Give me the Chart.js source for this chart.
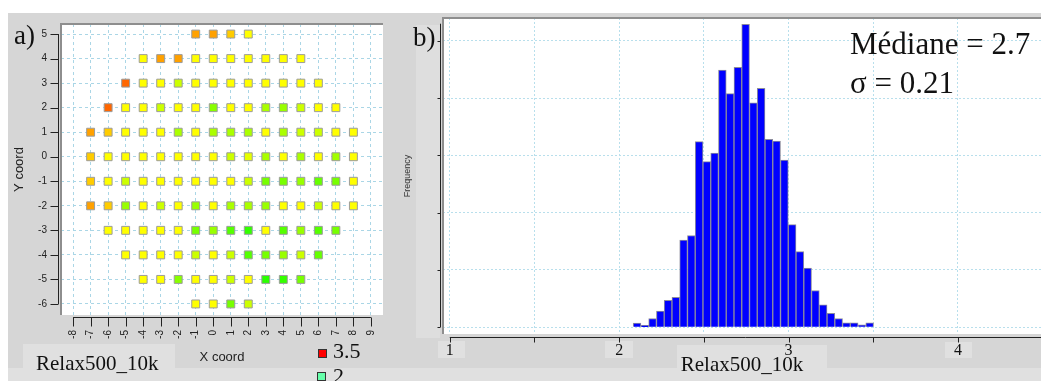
<!DOCTYPE html>
<html>
<head>
<meta charset="utf-8">
<script src="https://cdn.jsdelivr.net/npm/chart.js@4.4.1/dist/chart.umd.min.js"></script>
<style>
  body { margin: 0; width: 1041px; height: 381px; overflow: hidden; position: relative; background: #fff; }
  .abs { position: absolute; }
  .serif { font-family: "Liberation Serif", "Times New Roman", serif; color: #111; line-height: 1; white-space: nowrap; }
  canvas { position: absolute; top: 0; }
</style>
</head>
<body>
<div class="abs" style="left:8px;top:13px;width:1033px;height:368px;background:#d6d6d6"></div>
<div class="abs" style="left:8px;top:368px;width:1033px;height:13px;background:#e0e0e0"></div>
<div class="abs" style="left:23px;top:344px;width:152px;height:37px;background:#e0e0e0"></div>
<div class="abs" style="left:416px;top:25px;width:24px;height:313px;background:#dedede"></div>
<div class="abs" style="left:438px;top:341px;width:27px;height:17px;background:#e0e0e0"></div>
<div class="abs" style="left:605px;top:341px;width:28px;height:17px;background:#e0e0e0"></div>
<div class="abs" style="left:677px;top:345px;width:150px;height:23px;background:#e0e0e0"></div>
<div class="abs" style="left:945px;top:342px;width:27px;height:16px;background:#e0e0e0"></div>

<canvas id="wafer" width="400" height="381" style="left:0"></canvas>
<canvas id="hist" width="646" height="381" style="left:395px"></canvas>

<div class="abs serif" style="left:14px;top:22px;font-size:27px">a)</div>
<div class="abs serif" style="left:413px;top:24px;font-size:27px">b)</div>
<div class="abs serif" style="left:850px;top:28px;font-size:31px">Médiane = 2.7</div>
<div class="abs serif" style="left:850px;top:67px;font-size:31px">σ = 0.21</div>
<div class="abs serif" style="left:36px;top:353px;font-size:21px">Relax500_10k</div>
<div class="abs" style="left:318px;top:349px;width:7px;height:7px;background:#ff0000;border:1px solid #333"></div>
<div class="abs serif" style="left:333px;top:340px;font-size:22px">3.5</div>
<div class="abs" style="left:317px;top:372px;width:7px;height:7px;background:#66ffaa;border:1px solid #333"></div>
<div class="abs serif" style="left:333px;top:365px;font-size:22px">2</div>

<script>
// wafer map: one array per row (Y coord), values start at rowFirstX
var rowY = [5, 4, 3, 2, 1, 0, -1, -2, -3, -4, -5, -6];
var rowFirstX = [-1, -4, -5, -6, -7, -7, -7, -7, -6, -5, -4, -1];
var rowP5 = [3.12, 3.12, 3.02, 2.90];
var rowP4 = [2.90, 3.12, 3.12, 2.90, 2.90, 2.90, 2.90, 2.90, 2.90, 2.90];
var rowP3 = [3.26, 2.90, 2.90, 2.78, 2.90, 2.90, 2.90, 2.90, 2.90, 2.90, 2.90, 2.90];
var rowP2 = [3.26, 2.90, 2.90, 2.78, 2.90, 2.90, 2.62, 2.90, 2.90, 2.70, 2.66, 2.78, 2.90, 2.90];
var rowP1 = [3.12, 3.02, 2.90, 2.90, 2.90, 2.70, 2.90, 2.70, 2.70, 2.70, 2.90, 2.70, 2.78, 2.78, 2.90, 2.90];
var row0 = [3.02, 2.90, 2.90, 2.90, 2.90, 2.90, 2.90, 2.90, 2.78, 2.84, 2.70, 2.90, 2.70, 2.90, 2.68, 2.90];
var rowM1 = [3.02, 2.90, 2.78, 2.90, 2.90, 2.90, 2.90, 2.90, 2.90, 2.78, 2.58, 2.58, 2.66, 2.54, 2.58, 2.90];
var rowM2 = [3.12, 3.02, 2.66, 2.90, 2.78, 2.90, 2.66, 2.90, 2.70, 2.70, 2.66, 2.90, 2.90, 2.78, 2.90, 2.90];
var rowM3 = [2.90, 2.90, 2.90, 2.90, 2.90, 2.58, 2.66, 2.50, 2.42, 2.90, 2.50, 2.66, 2.50, 2.58];
var rowM4 = [2.90, 2.90, 2.90, 2.90, 2.78, 2.90, 2.78, 2.50, 2.58, 2.66, 2.78, 2.54];
var rowM5 = [2.90, 2.90, 2.62, 2.90, 2.90, 2.78, 2.90, 2.40, 2.42, 2.58];
var rowM6 = [2.90, 2.90, 2.58, 2.78];
var dieRows = [rowP5, rowP4, rowP3, rowP2, rowP1, row0, rowM1, rowM2, rowM3, rowM4, rowM5, rowM6];

// histogram of Relax500_10k
var binCenters = [2.1055, 2.1513, 2.1970, 2.2428, 2.2886, 2.3344, 2.3801, 2.4259, 2.4717, 2.5175,
                  2.5632, 2.6090, 2.6548, 2.7006, 2.7463, 2.7921, 2.8379, 2.8837, 2.9294, 2.9752,
                  3.0210, 3.0668, 3.1125, 3.1583, 3.2041, 3.2499, 3.2956, 3.3414, 3.3872, 3.4330, 3.4787];
var binCounts = [0.7, 0.3, 1.5, 2.8, 4.7, 5.2, 15.2, 16.0, 32.4, 28.9,
                 30.4, 44.9, 40.8, 45.4, 52.9, 39.2, 41.7, 32.8, 32.5, 29.2,
                 17.9, 13.2, 10.3, 6.4, 3.9, 2.4, 1.5, 0.75, 0.75, 0.4, 0.75];

function dieColor(v) {
  var h = Math.max(0, Math.min(150, (3.5 - v) * 100));
  return 'hsl(' + h + ',100%,50%)';
}

var points = [];
var colors = [];
dieRows.forEach(function(vals, r) {
  vals.forEach(function(v, i) {
    points.push({x: rowFirstX[r] + i, y: rowY[r]});
    colors.push(dieColor(v));
  });
});

// white plot box, sunken edge, and axes drawn slightly off the plot box
var frame = {
  id: 'frame',
  beforeDraw: function(chart) {
    var a = chart.chartArea, ctx = chart.ctx;
    ctx.save();
    ctx.fillStyle = '#fff';
    ctx.fillRect(a.left, a.top, a.right - a.left, a.bottom - a.top);
    ctx.restore();
  },
  afterDraw: function(chart, args, o) {
    var a = chart.chartArea, ctx = chart.ctx, x = chart.scales.x, y = chart.scales.y;
    ctx.save();
    ctx.strokeStyle = '#8e8e8e';
    ctx.lineWidth = 2;
    ctx.beginPath();
    ctx.moveTo(a.left, a.bottom); ctx.lineTo(a.left, a.top); ctx.lineTo(a.right, a.top);
    ctx.stroke();
    ctx.strokeStyle = '#222';
    ctx.lineWidth = 1;
    var ax = Math.round(a.left - o.gapY) + 0.5, ay = Math.round(a.bottom + o.gapX) + 0.5;
    ctx.beginPath();
    ctx.moveTo(ax, y.getPixelForValue(o.yFrom)); ctx.lineTo(ax, y.getPixelForValue(o.yTo));
    y.ticks.forEach(function(t) {
      var p = Math.round(y.getPixelForValue(t.value)) + 0.5;
      ctx.moveTo(ax - o.tickY, p); ctx.lineTo(ax, p);
    });
    ctx.moveTo(x.getPixelForValue(o.xFrom), ay); ctx.lineTo(x.getPixelForValue(o.xTo), ay);
    x.ticks.forEach(function(t) {
      var p = Math.round(x.getPixelForValue(t.value)) + 0.5;
      ctx.moveTo(p, ay); ctx.lineTo(p, ay + o.tickX);
    });
    ctx.stroke();
    ctx.restore();
  }
};

Chart.defaults.font.family = '"Liberation Sans", Arial, sans-serif';
Chart.defaults.color = '#333';

new Chart(document.getElementById('wafer').getContext('2d'), {
  type: 'scatter',
  data: {
    datasets: [{
      data: points,
      pointStyle: 'rect',
      pointRadius: 5.6,
      pointHoverRadius: 5.6,
      backgroundColor: colors,
      borderColor: '#9c9c9c',
      borderWidth: 1
    }]
  },
  options: {
    responsive: false,
    animation: false,
    events: [],
    layout: { padding: { left: 8, top: 24, right: 17, bottom: 0 } },
    plugins: {
      legend: { display: false },
      tooltip: { enabled: false },
      frame: { gapY: 3, gapX: 2, tickY: 8, tickX: 9, yFrom: 5, yTo: -6, xFrom: -8, xTo: 9 }
    },
    scales: {
      x: {
        type: 'linear', min: -8.69, max: 9.69,
        afterFit: function(s) { s.height = 66; s.paddingLeft = 0; s.paddingRight = 0; },
        ticks: { stepSize: 1, includeBounds: false, autoSkip: false, minRotation: 90, maxRotation: 90,
                 padding: 3, font: { size: 10 }, color: '#222' },
        grid: { color: '#aad6e6', tickColor: 'transparent', tickLength: 12 },
        border: { display: false, dash: [3, 3] },
        title: { display: true, text: 'X coord', font: { size: 13 }, color: '#222', padding: { top: 0, bottom: 16 } }
      },
      y: {
        type: 'linear', min: -6.45, max: 5.41,
        afterFit: function(s) { s.width = 53; s.paddingTop = 0; s.paddingBottom = 0; },
        ticks: { stepSize: 1, includeBounds: false, padding: 6, font: { size: 10 }, color: '#222' },
        grid: { color: '#aad6e6', tickColor: 'transparent', tickLength: 8 },
        border: { display: false, dash: [3, 3] },
        title: { display: true, text: 'Y coord', font: { size: 13 }, color: '#222', padding: { top: 4, bottom: 0 } }
      }
    }
  },
  plugins: [frame]
});

new Chart(document.getElementById('hist').getContext('2d'), {
  type: 'bar',
  data: {
    datasets: [{
      data: binCenters.map(function(c, i) { return {x: c, y: binCounts[i]}; }),
      backgroundColor: '#0000ff',
      borderColor: '#8c8c9c',
      borderWidth: 1,
      barPercentage: 1,
      categoryPercentage: 1
    }]
  },
  options: {
    responsive: false,
    animation: false,
    events: [],
    layout: { padding: { left: 0, top: 18, right: 0, bottom: 0 } },
    plugins: {
      legend: { display: false },
      tooltip: { enabled: false },
      frame: { gapY: 3, gapX: 3, tickY: 3, tickX: 5, yFrom: 0, yTo: 53, xFrom: 1, xTo: 4.49 }
    },
    scales: {
      x: {
        type: 'linear', min: 0.96, max: 4.49, offset: false,
        afterFit: function(s) { s.height = 47; s.paddingLeft = 0; s.paddingRight = 0; },
        ticks: { stepSize: 0.5, includeBounds: false, autoSkip: false, maxRotation: 0, padding: 2,
                 callback: function(v) { return Number.isInteger(v) ? v : ''; },
                 font: { family: '"Liberation Serif", serif', size: 16 }, color: '#111' },
        grid: { color: '#b8dfec', tickColor: 'transparent', tickLength: 5, offset: false },
        border: { display: false, dash: [2, 2] },
        title: { display: true, text: 'Relax500_10k', font: { family: '"Liberation Serif", serif', size: 21 },
                 color: '#111', padding: { top: 0, bottom: 3 } }
      },
      y: {
        type: 'linear', min: -1.2, max: 54,
        afterFit: function(s) { s.width = 48; s.paddingTop = 0; s.paddingBottom = 0; },
        ticks: { stepSize: 10, includeBounds: false, display: false },
        grid: { color: '#b8dfec', tickColor: 'transparent', tickLength: 0 },
        border: { display: false, dash: [2, 2] },
        title: { display: true, text: 'Frequency', font: { size: 9 }, color: '#333', padding: { top: 7, bottom: 0 } }
      }
    }
  },
  plugins: [frame]
});
</script>
</body>
</html>
